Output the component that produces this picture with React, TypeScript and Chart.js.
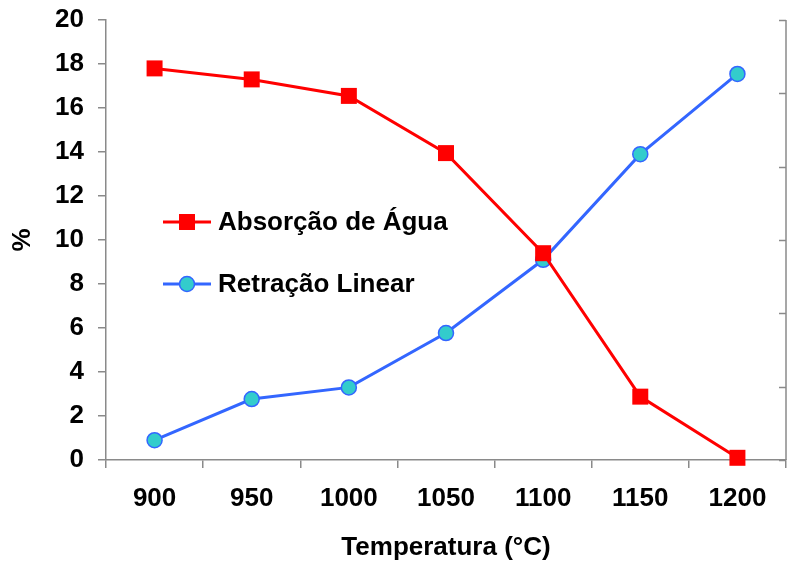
import { useEffect, useRef } from "react";
import { Chart, registerables } from "chart.js";

Chart.register(...registerables);

// Firing temperature (°C)
const temperatures = ["900", "950", "1000", "1050", "1100", "1150", "1200"];
// Water absorption (%)
const absorcaoAgua = [17.8, 17.3, 16.55, 13.95, 9.4, 2.88, 0.1];
// Linear shrinkage (%)
const retracaoLinear = [0.9, 2.77, 3.3, 5.77, 9.1, 13.9, 17.55];

const seriesNames = ["Absorção de Água", "Retração Linear"];

const FONT = "'Liberation Sans', Arial, sans-serif";
const AXIS_GREY = "#8a8a8a";

// Legend drawn inside the plot area, on the left.
const innerLegend = {
  id: "innerLegend",
  afterDatasetsDraw(chart: any) {
    const { ctx, chartArea } = chart;
    const x0 = chartArea.left + 57;
    const rows = [chartArea.top + 202, chartArea.top + 264];
    ctx.save();
    chart.data.datasets.forEach((ds: any, i: number) => {
      const y = rows[i];
      ctx.strokeStyle = ds.borderColor;
      ctx.lineWidth = ds.borderWidth;
      ctx.beginPath();
      ctx.moveTo(x0, y);
      ctx.lineTo(x0 + 48, y);
      ctx.stroke();
      ctx.fillStyle = ds.pointBackgroundColor;
      ctx.strokeStyle = ds.pointBorderColor;
      ctx.lineWidth = ds.pointBorderWidth;
      if (ds.pointStyle === "rect") {
        const s = ds.pointRadius * Math.SQRT1_2;
        ctx.fillRect(x0 + 24 - s, y - s, 2 * s, 2 * s);
      } else {
        ctx.beginPath();
        ctx.arc(x0 + 24, y, ds.pointRadius, 0, Math.PI * 2);
        ctx.fill();
        ctx.stroke();
      }
      ctx.fillStyle = "#000";
      ctx.font = `bold 26px ${FONT}`;
      ctx.textBaseline = "middle";
      ctx.textAlign = "left";
      ctx.fillText(ds.label, x0 + 55, y + 1);
    });
    ctx.restore();
  },
};

// Secondary axis on the right edge of the plot: line plus inward tick marks, no labels.
const rightAxis = {
  id: "rightAxis",
  afterDraw(chart: any) {
    const scale = chart.scales.y1;
    if (!scale) return;
    const { ctx, chartArea } = chart;
    ctx.save();
    ctx.strokeStyle = AXIS_GREY;
    ctx.lineWidth = 1.5;
    ctx.beginPath();
    ctx.moveTo(chartArea.right, chartArea.top);
    ctx.lineTo(chartArea.right, chartArea.bottom);
    ctx.stroke();
    scale.ticks.forEach((t: any) => {
      const py = Math.round(scale.getPixelForValue(t.value)) + 0.5;
      ctx.beginPath();
      ctx.moveTo(chartArea.right - 7, py);
      ctx.lineTo(chartArea.right, py);
      ctx.stroke();
    });
    ctx.restore();
  },
};

export default function App() {
  const canvasRef = useRef<HTMLCanvasElement>(null);

  useEffect(() => {
    if (!canvasRef.current) return;
    const chart = new Chart(canvasRef.current, {
      type: "line",
      data: {
        labels: temperatures,
        datasets: [
          {
            label: seriesNames[0],
            data: absorcaoAgua,
            borderColor: "#ff0000",
            backgroundColor: "#ff0000",
            borderWidth: 3,
            pointStyle: "rect",
            pointRadius: 11.3,
            pointBackgroundColor: "#ff0000",
            pointBorderColor: "#ff0000",
            pointBorderWidth: 0,
            clip: false,
            yAxisID: "y",
          },
          {
            label: seriesNames[1],
            data: retracaoLinear,
            borderColor: "#3366ff",
            backgroundColor: "#33cccc",
            borderWidth: 3,
            pointStyle: "circle",
            pointRadius: 7.5,
            pointBackgroundColor: "#33cccc",
            pointBorderColor: "#3366ff",
            pointBorderWidth: 1.5,
            clip: false,
            yAxisID: "y",
          },
        ],
      },
      options: {
        animation: false,
        responsive: false,
        maintainAspectRatio: false,
        layout: { autoPadding: false, padding: { top: 20, right: 3, left: 0, bottom: 0 } },
        plugins: {
          legend: { display: false },
          tooltip: { enabled: false },
        },
        scales: {
          x: {
            offset: true,
            grid: {
              offset: true,
              drawOnChartArea: false,
              drawTicks: true,
              tickLength: 8,
              color: AXIS_GREY,
              lineWidth: 1.5,
            },
            border: { color: AXIS_GREY, width: 1.5 },
            ticks: {
              color: "#000",
              font: { family: FONT, size: 26, weight: "bold" },
              padding: 15,
              maxRotation: 0,
            },
            title: {
              display: true,
              text: "Temperatura (°C)",
              color: "#000",
              font: { family: FONT, size: 26, weight: "bold" },
              padding: { top: 0, bottom: 0 },
            },
            afterFit: (scale: any) => {
              scale.height = 103;
              scale.paddingLeft = 0;
              scale.paddingRight = 0;
            },
          },
          y: {
            min: 0,
            max: 20,
            ticks: {
              stepSize: 2,
              color: "#000",
              font: { family: FONT, size: 26, weight: "bold" },
              padding: 14,
            },
            grid: {
              drawOnChartArea: false,
              drawTicks: true,
              tickLength: 8,
              color: AXIS_GREY,
              lineWidth: 1.5,
            },
            border: { color: AXIS_GREY, width: 1.5 },
            title: {
              display: true,
              text: "%",
              color: "#000",
              font: { family: FONT, size: 26, weight: "bold" },
              padding: { top: 7, bottom: 0 },
            },
            afterFit: (scale: any) => {
              scale.width = 106;
              scale.paddingTop = 0;
              scale.paddingBottom = 0;
            },
          },
          y1: {
            display: false,
            position: "right",
            min: 0,
            max: 6,
            ticks: { stepSize: 1 },
          },
        },
      },
      plugins: [innerLegend, rightAxis],
    } as any);
    return () => chart.destroy();
  }, []);

  return (
    <div style={{ position: "absolute", left: 0, top: 0, width: 789, height: 563, background: "#fff" }}>
      <canvas ref={canvasRef} width={789} height={563} style={{ display: "block" }} />
    </div>
  );
}
